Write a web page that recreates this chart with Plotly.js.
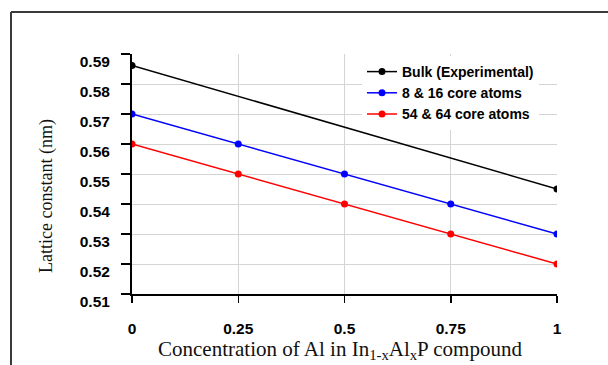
<!DOCTYPE html>
<html>
<head>
<meta charset="utf-8">
<script src="https://cdn.plot.ly/plotly-3.0.1.min.js"></script>
<style>
  html, body { margin: 0; padding: 0; background: #fff; }
  #chart { width: 608px; height: 365px; }
</style>
</head>
<body>
<div id="chart"></div>
<script>
// ---- data ----
const concentration = [0, 0.25, 0.5, 0.75, 1];
const bulkConcentration = [0, 1];
const bulkExperimental = [0.5862, 0.545];
const core8and16 = [0.57, 0.56, 0.55, 0.54, 0.53];
const core54and64 = [0.56, 0.55, 0.54, 0.53, 0.52];

const seriesNames = ['Bulk (Experimental)', '8 & 16 core atoms', '54 & 64 core atoms'];
const xTickVals = [0, 0.25, 0.5, 0.75, 1];
const xTickText = ['0', '0.25', '0.5', '0.75', '1'];
const yTickVals = [0.51, 0.52, 0.53, 0.54, 0.55, 0.56, 0.57, 0.58, 0.59];
const yTickText = ['0.51', '0.52', '0.53', '0.54', '0.55', '0.56', '0.57', '0.58', '0.59'];
const xTitle = 'Concentration of Al in In<sub>1-x</sub>Al<sub>x</sub>P compound';
const yTitle = 'Lattice constant (nm)';

// ---- layout geometry ----
const W = 608, H = 365;
const mL = 132, mR = 51, mT = 54, mB = 71;
const pw = W - mL - mR, ph = H - mT - mB;
const px = v => (v - mL) / pw;          // pixel x -> paper x
const py = v => (H - mB - v) / ph;      // pixel y -> paper y

function trace(x, y, name, color) {
  return {
    x: x, y: y, name: name, type: 'scatter', mode: 'lines+markers',
    line: { color: color, width: 1.5 },
    marker: { color: color, size: 7 }
  };
}

const data = [
  trace(bulkConcentration, bulkExperimental, seriesNames[0], '#000000'),
  trace(concentration, core8and16, seriesNames[1], '#0000ff'),
  trace(concentration, core54and64, seriesNames[2], '#ff0000')
];

const tickFont = { family: 'Liberation Sans, Arial, sans-serif', size: 15.5, color: '#000', weight: 'bold' };

const layout = {
  width: W, height: H,
  margin: { l: mL, r: mR, t: mT, b: mB, pad: 0 },
  paper_bgcolor: '#fff', plot_bgcolor: '#fff',
  showlegend: true,
  legend: {
    x: px(362), y: py(56), xanchor: 'left', yanchor: 'top',
    bgcolor: '#ffffff', borderwidth: 0,
    font: { family: 'Liberation Sans, Arial, sans-serif', size: 14, color: '#000', weight: 'bold' },
    tracegroupgap: 0
  },
  xaxis: {
    range: [0, 1], tickvals: xTickVals, ticktext: xTickText,
    showline: true, linecolor: '#000', linewidth: 2,
    ticks: 'outside', ticklen: 7, tickwidth: 1.5, tickcolor: '#000',
    showgrid: true, gridcolor: '#d4d4d4', gridwidth: 1,
    zeroline: false, tickfont: tickFont, ticklabelstandoff: 12,
    fixedrange: true
  },
  yaxis: {
    range: [0.51, 0.59], tickvals: yTickVals, ticktext: yTickText,
    showline: true, linecolor: '#000', linewidth: 2,
    ticks: 'outside', ticklen: 9, tickwidth: 1.5, tickcolor: '#000',
    showgrid: true, gridcolor: '#d4d4d4', gridwidth: 1,
    zeroline: false, tickfont: tickFont, ticklabelstandoff: 8,
    ticklabelshift: 8,
    fixedrange: true
  },
  annotations: [
    { text: xTitle, xref: 'paper', yref: 'paper', x: px(340), y: py(350),
      xanchor: 'center', yanchor: 'middle', showarrow: false,
      font: { family: 'Liberation Serif, Times New Roman, serif', size: 21, color: '#111' } },
    { text: yTitle, xref: 'paper', yref: 'paper', x: px(46), y: py(196),
      xanchor: 'center', yanchor: 'middle', showarrow: false, textangle: -90,
      font: { family: 'Liberation Serif, Times New Roman, serif', size: 18, color: '#111' } }
  ],
  shapes: [
    { type: 'line', xref: 'paper', yref: 'paper', x0: px(11), x1: px(612), y0: py(12), y1: py(12),
      line: { color: '#3a3a3a', width: 2 } },
    { type: 'line', xref: 'paper', yref: 'paper', x0: px(11), x1: px(11), y0: py(12), y1: py(370),
      line: { color: '#3a3a3a', width: 2 } }
  ]
};

Plotly.newPlot('chart', data, layout, { displayModeBar: false, staticPlot: true });
</script>
</body>
</html>
